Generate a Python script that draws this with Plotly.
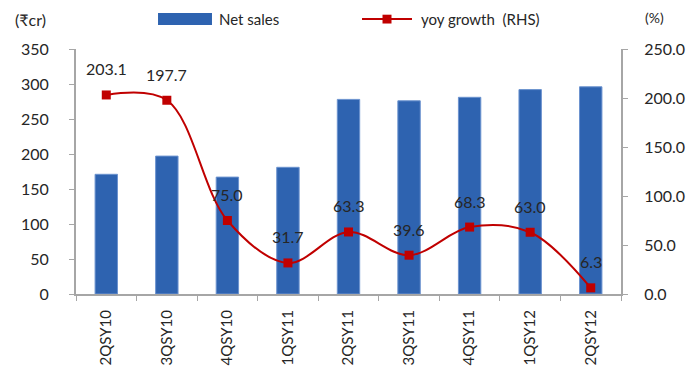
import plotly.graph_objects as go

quarters = ["2QSY10", "3QSY10", "4QSY10", "1QSY11", "2QSY11", "3QSY11", "4QSY11", "1QSY12", "2QSY12"]
net_sales = [171, 197, 167, 181, 278, 276, 281, 292, 296]
yoy_growth = [203.1, 197.7, 75.0, 31.7, 63.3, 39.6, 68.3, 63.0, 6.3]
growth_labels = ["203.1", "197.7", "75.0", "31.7", "63.3", "39.6", "68.3", "63.0", "6.3"]

FONT = "Lato"
TXT = "#262626"
GRID = "#A6A6A6"
BLUE = "#2E63B0"
RED = "#C00000"

fig = go.Figure()
fig.add_trace(go.Bar(x=quarters, y=net_sales, name="Net sales", width=0.37,
                     marker=dict(color=BLUE, line=dict(color="#6C93CF", width=1)),
                     showlegend=False))
fig.add_trace(go.Scatter(x=quarters, y=yoy_growth, yaxis="y2", name="yoy growth  (RHS)",
                         mode="lines+markers",
                         line=dict(color=RED, width=2, shape="spline", smoothing=1.0),
                         marker=dict(symbol="square", size=9, color=RED),
                         showlegend=False, cliponaxis=False))

ann = []
for q, v, t in zip(quarters, yoy_growth, growth_labels):
    ann.append(dict(x=q, y=v, xref="x", yref="y2", text=t, showarrow=False,
                    yshift=26, font=dict(family=FONT, size=16, color=TXT)))

# axis titles
ann.append(dict(x=-0.051, y=1.122, xref="paper", yref="paper", text="(₹cr)", showarrow=False,
                xanchor="right", yanchor="middle", font=dict(family=FONT, size=16, color=TXT)))
ann.append(dict(x=1.04, y=1.13, xref="paper", yref="paper", text="(%)", showarrow=False,
                xanchor="left", yanchor="middle", font=dict(family=FONT, size=14, color=TXT)))
# legend text
ann.append(dict(x=0.258, y=1.122, xref="paper", yref="paper", text="Net sales", showarrow=False,
                xanchor="left", yanchor="middle", font=dict(family=FONT, size=15, color=TXT)))
ann.append(dict(x=0.6294, y=1.122, xref="paper", yref="paper", text="yoy growth  (RHS)", showarrow=False,
                xanchor="left", yanchor="middle", font=dict(family=FONT, size=15, color=TXT)))

shapes = [
    dict(type="rect", xref="paper", yref="paper", x0=0.1505, x1=0.2495, y0=1.098, y1=1.147,
         fillcolor=BLUE, line=dict(width=0)),
    dict(type="line", xref="paper", yref="paper", x0=0.5248, x1=0.6165, y0=1.122, y1=1.122,
         line=dict(color=RED, width=2)),
    dict(type="rect", xref="paper", yref="paper", x0=0.5624, x1=0.5789, y0=1.104, y1=1.140,
         fillcolor=RED, line=dict(width=0)),
]

fig.update_layout(
    width=688, height=376,
    margin=dict(l=76, r=67, t=49, b=82),
    plot_bgcolor="white", paper_bgcolor="white",
    font=dict(family=FONT, size=16, color=TXT),
    bargap=0.6,
    annotations=ann, shapes=shapes,
    xaxis=dict(type="category", range=[-0.5, 8.5], showline=True, linecolor=GRID, linewidth=2,
               automargin=False,
               ticks="outside", ticklen=5, tickcolor=GRID, tickwidth=1, tickson="boundaries",
               tickangle=-90, tickfont=dict(family=FONT, size=15, color=TXT),
               ticklabelstandoff=8,
               showgrid=False, zeroline=False),
    yaxis=dict(range=[0, 350], dtick=50, showline=True, linecolor=GRID, linewidth=2, automargin=False,
               ticks="outside", ticklen=5, tickcolor=GRID, tickwidth=1,
               tickfont=dict(family=FONT, size=16, color=TXT), ticklabelstandoff=17,
               showgrid=False, zeroline=False),
    yaxis2=dict(range=[0, 250], dtick=50, tickformat=".1f", overlaying="y", side="right",
                showline=True, linecolor=GRID, linewidth=2, automargin=False,
                ticks="outside", ticklen=5, tickcolor=GRID, tickwidth=1,
                tickfont=dict(family=FONT, size=16, color=TXT), ticklabelstandoff=13,
                showgrid=False, zeroline=False),
)

fig.write_html("out.html")
